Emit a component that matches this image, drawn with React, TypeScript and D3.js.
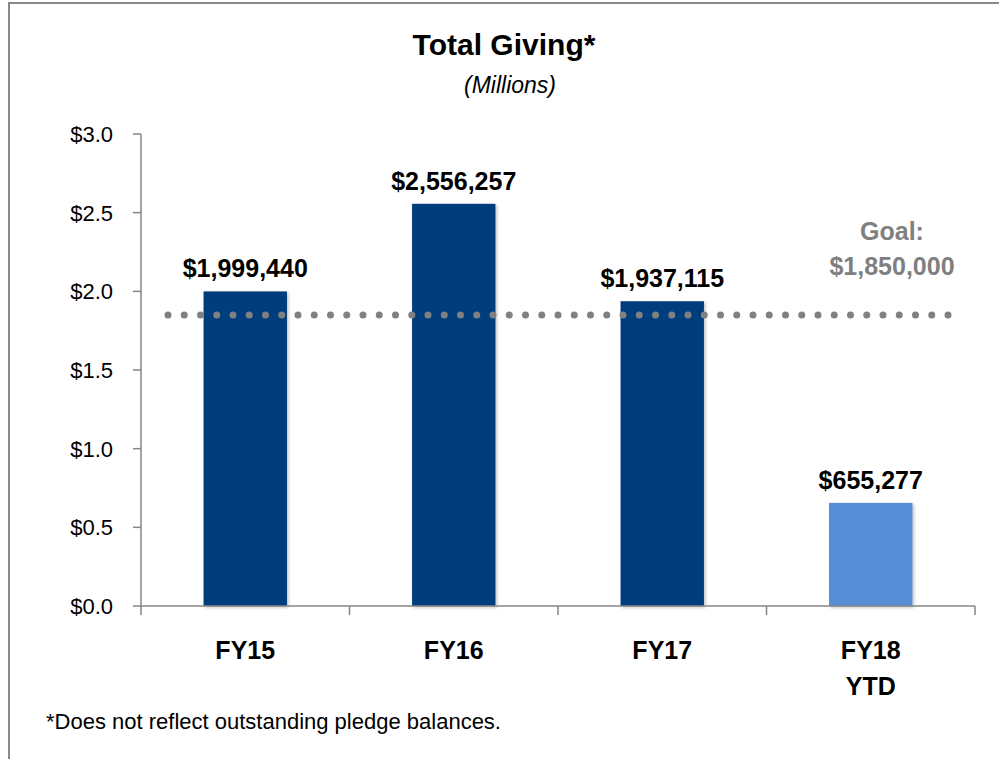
import React from "react";
import * as d3 from "d3";

const categories: string[][] = [["FY15"], ["FY16"], ["FY17"], ["FY18", "YTD"]];
const values: number[] = [1999440, 2556257, 1937115, 655277];
const barColors: string[] = ["#023e7d", "#023e7d", "#023e7d", "#558ed5"];
const yTicks: number[] = [0, 0.5, 1.0, 1.5, 2.0, 2.5, 3.0];
const goalValue = 1850000;
const goalLabel: string[] = ["Goal:", "$1,850,000"];

const FONT = "'Liberation Sans Narrow', 'Arial Narrow', 'Liberation Sans', Arial, sans-serif";

export default function App() {
  const W = 999, H = 759;
  const left = 141, right = 975, top = 134, bottom = 606;
  const keys = categories.map((c) => c.join(" "));
  const x = d3.scaleBand<string>().domain(keys).range([left, right]).paddingInner(0.6).paddingOuter(0.3);
  const y = d3.scaleLinear().domain([0, 3]).range([bottom, top]);
  const step = x.step();
  const fmt = (v: number) => "$" + d3.format(",")(v);
  const gy = y(goalValue / 1e6);

  return (
    <svg width={W} height={H} style={{ position: "absolute", left: 0, top: 0, fontFamily: FONT }}>
      <defs>
        <filter id="sh" x="-10%" y="-10%" width="130%" height="130%">
          <feDropShadow dx="1.5" dy="1.5" stdDeviation="1.5" floodColor="#000" floodOpacity="0.25" />
        </filter>
      </defs>
      <rect x={0} y={0} width={W} height={H} fill="#fff" />
      {/* frame */}
      <line x1={8} x2={W} y1={3} y2={3} stroke="#8a8a8a" strokeWidth={2} />
      <line x1={9} x2={9} y1={2} y2={H} stroke="#8a8a8a" strokeWidth={2} />

      {/* title */}
      <text x={504} y={55} textAnchor="middle" fontSize={30} fontWeight="bold" fill="#000">Total Giving*</text>
      <text x={510} y={93} textAnchor="middle" fontSize={23} fontStyle="italic" fill="#000">(Millions)</text>

      {/* y axis */}
      <line x1={left} x2={left} y1={top} y2={bottom} stroke="#868686" strokeWidth={1.5} />
      {yTicks.map((t) => (
        <g key={t}>
          <line x1={left - 8} x2={left} y1={y(t)} y2={y(t)} stroke="#868686" strokeWidth={1.5} />
          <text x={113} y={y(t) + 8} textAnchor="end" fontSize={22} fill="#000">{"$" + t.toFixed(1)}</text>
        </g>
      ))}

      {/* bars */}
      {values.map((v, i) => (
        <rect key={i} x={x(keys[i])!} y={y(v / 1e6)} width={x.bandwidth()} height={bottom - y(v / 1e6)} fill={barColors[i]} filter="url(#sh)" />
      ))}

      {/* x axis */}
      <line x1={left} x2={right} y1={bottom} y2={bottom} stroke="#868686" strokeWidth={1.5} />
      {d3.range(keys.length + 1).map((i) => (
        <line key={i} x1={left + i * step} x2={left + i * step} y1={bottom} y2={bottom + 9} stroke="#868686" strokeWidth={1.5} />
      ))}

      {/* goal line */}
      <line x1={168} x2={948.1} y1={gy} y2={gy} stroke="#808080" strokeWidth={7} strokeLinecap="round" strokeDasharray="0 16.25" />
      {goalLabel.map((s, i) => (
        <text key={i} x={892} y={240 + i * 35} textAnchor="middle" fontSize={25} fontWeight="bold" fill="#7f7f7f">{s}</text>
      ))}

      {/* data labels */}
      {values.map((v, i) => (
        <text key={i} x={x(keys[i])! + x.bandwidth() / 2} y={y(v / 1e6) - 14} textAnchor="middle" fontSize={25} fontWeight="bold" fill="#000">{fmt(v)}</text>
      ))}

      {/* category labels */}
      {categories.map((c, i) => (
        <text key={i} x={x(keys[i])! + x.bandwidth() / 2} y={659} textAnchor="middle" fontSize={25} fontWeight="bold" fill="#000">
          {c.map((l, j) => (
            <tspan key={j} x={x(keys[i])! + x.bandwidth() / 2} dy={j === 0 ? 0 : 36}>{l}</tspan>
          ))}
        </text>
      ))}

      {/* footnote */}
      <text x={46} y={729} fontSize={22} fill="#000">*Does not reflect outstanding pledge balances.</text>
    </svg>
  );
}
